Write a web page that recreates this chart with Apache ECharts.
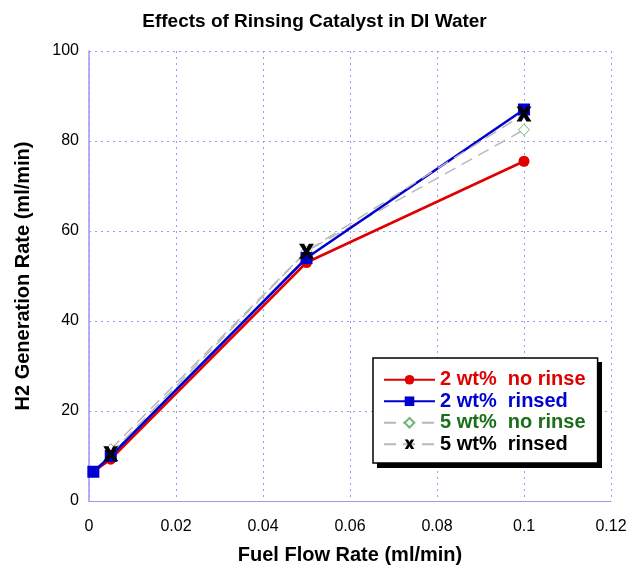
<!DOCTYPE html>
<html style="height: 100%">
   <head>
       <meta charset="utf-8">
   </head>
   <body style="height: 100%; margin: 0; background: #fff">
       <div id="container" style="width: 629px; height: 566px"></div>
       <script type="text/javascript" src="https://cdn.jsdelivr.net/npm/echarts@6/dist/echarts.min.js"></script>
       <script type="text/javascript">
// values
var flowRates = [0.001, 0.005, 0.05, 0.1];
var noRinse2 = [6.5, 9.3, 53, 75.5];
var rinsed2 = [6.5, 10, 54, 87];
var flowRates5 = [0.005, 0.05, 0.1];
var noRinse5 = [11.5, 55.5, 82.5];
var rinsed5 = [10.5, 55.5, 86];
var xTicks = [0, 0.02, 0.04, 0.06, 0.08, 0.1, 0.12];

function pairs(xs, ys) {
    return xs.map(function (x, i) { return [x, ys[i]]; });
}

var dom = document.getElementById("container");
var myChart = echarts.init(dom);
var font = 'Liberation Sans, Arial, sans-serif';
var gridColor = '#9a9af0';

var option = {
    animation: false,
    backgroundColor: '#fff',
    title: {
        text: 'Effects of Rinsing Catalyst in DI Water',
        left: 'center',
        top: 7,
        textStyle: { fontFamily: font, fontWeight: 'bold', fontSize: 19, color: '#000' }
    },
    grid: { left: 89, right: 18, top: 51, bottom: 65, show: false, outerBoundsMode: 'none' },
    // legend drop shadow
    graphic: [{
        type: 'rect',
        z: 3,
        shape: { x: 377, y: 362, width: 225, height: 106 },
        style: { fill: '#000' }
    }],
    xAxis: {
        type: 'value',
        min: 0, max: 0.12, interval: 0.02,
        name: 'Fuel Flow Rate (ml/min)',
        nameLocation: 'middle',
        nameGap: 44,
        nameTextStyle: { fontFamily: font, fontWeight: 'bold', fontSize: 20, color: '#000' },
        axisLine: { lineStyle: { color: gridColor, width: 1 } },
        axisTick: { show: false },
        axisLabel: {
            fontFamily: font, fontSize: 16, color: '#000', margin: 18,
            formatter: function (v) {
                var r = Math.round(v * 100) / 100;
                return xTicks.indexOf(r) >= 0 ? String(r) : '';
            }
        },
        splitLine: { show: true, lineStyle: { color: gridColor, type: [2, 4], width: 1 } }
    },
    yAxis: {
        type: 'value',
        min: 0, max: 100, interval: 20,
        name: 'H2 Generation Rate (ml/min)',
        nameLocation: 'middle',
        nameGap: 56,
        nameTextStyle: { fontFamily: font, fontWeight: 'bold', fontSize: 20, color: '#000' },
        axisLine: { show: true, lineStyle: { color: gridColor, width: 1.5 } },
        axisTick: { show: false },
        axisLabel: { fontFamily: font, fontSize: 16, color: '#000', margin: 10 },
        splitLine: { show: true, lineStyle: { color: gridColor, type: [2, 4], width: 1 } }
    },
    legend: {
        orient: 'vertical',
        left: 373,
        top: 358,
        padding: [11, 12, 8, 10],
        itemGap: 0,
        itemWidth: 51,
        itemHeight: 12,
        backgroundColor: '#fff',
        borderColor: '#000',
        borderWidth: 1.5,
        textStyle: { fontFamily: font, fontWeight: 'bold', fontSize: 20, lineHeight: 21.5 },
        data: [
            { name: '2 wt%  no rinse', textStyle: { color: '#e00000' } },
            { name: '2 wt%  rinsed', textStyle: { color: '#0000d0' } },
            { name: '5 wt%  no rinse', textStyle: { color: '#1a6e1a' } },
            { name: '5 wt%  rinsed', textStyle: { color: '#000' } }
        ]
    },
    series: [
        {
            name: '5 wt%  no rinse',
            type: 'line',
            data: pairs(flowRates5, noRinse5),
            symbol: 'diamond',
            symbolSize: 11,
            z: 1,
            lineStyle: { color: '#b8b8b8', width: 1.5, type: [12, 7] },
            itemStyle: { color: '#fff', borderColor: '#6fb86f', borderWidth: 1 }
        },
        {
            name: '5 wt%  rinsed',
            type: 'line',
            data: pairs(flowRates5, rinsed5),
            symbol: 'path://M0,0 L3.4,0 L5,3 L6.6,0 L10,0 L6.8,5 L10,10 L6.6,10 L5,7 L3.4,10 L0,10 L3.2,5 Z',
            symbolSize: 15,
            z: 4,
            lineStyle: { color: '#b8b8b8', width: 1.5, type: [12, 7] },
            itemStyle: { color: '#000' }
        },
        {
            name: '2 wt%  no rinse',
            type: 'line',
            data: pairs(flowRates, noRinse2),
            symbol: 'circle',
            symbolSize: 11,
            z: 2,
            lineStyle: { color: '#e00000', width: 2.5 },
            itemStyle: { color: '#e00000' }
        },
        {
            name: '2 wt%  rinsed',
            type: 'line',
            data: pairs(flowRates, rinsed2),
            symbol: 'rect',
            symbolSize: 12,
            z: 3,
            lineStyle: { color: '#0000d0', width: 2.5 },
            itemStyle: { color: '#0000d0' }
        }
    ]
};

myChart.setOption(option, true);
       </script>
   </body>
</html>
